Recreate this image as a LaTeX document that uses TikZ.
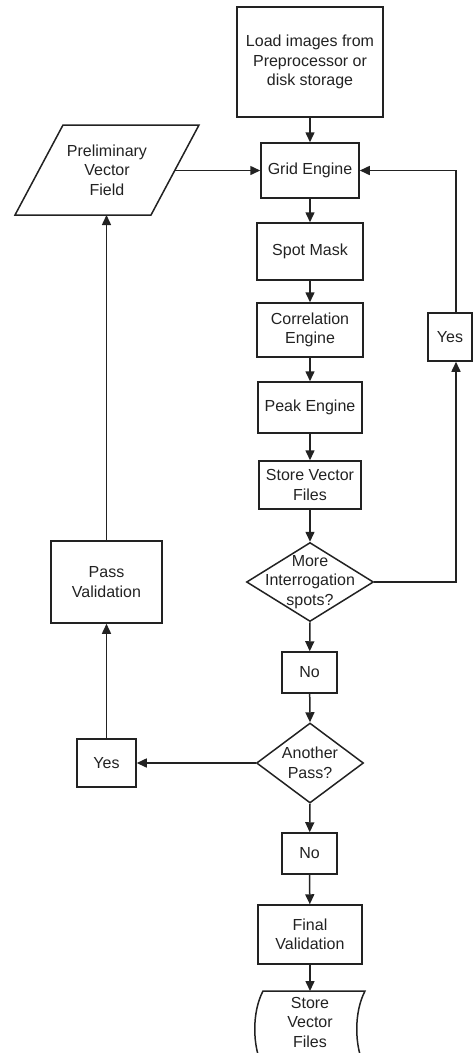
\documentclass[tikz,border=0pt]{standalone}
\usepackage{fontspec}
\setmainfont{Liberation Sans}
\usetikzlibrary{shapes.geometric,arrows.meta}
\definecolor{ink}{HTML}{222222}
\begin{document}
\begin{tikzpicture}[x=1pt,y=-1pt,
  every node/.style={font=\fontsize{16}{19.5}\selectfont, text=ink},
  box/.style={draw=ink, line width=1.5pt, rectangle, align=center, inner sep=0pt},
  dia/.style={draw=ink, line width=1.5pt, diamond, inner sep=0pt},
  txt/.style={align=center, inner sep=0pt},
  conn/.style={draw=ink, line width=1.5pt},
  arr/.style={conn, -{Triangle[length=10pt,width=9pt]}}]
\useasboundingbox (0,0) rectangle (474,1053);
\begin{scope}
\clip (0,0) rectangle (474,1053);
% nodes
\node[box, minimum width=146, minimum height=110] (load) at (310,62) {Load images from\\Preprocessor or\\disk storage};
\node[box, minimum width=98, minimum height=55] (grid) at (310,170.5) {Grid Engine};
\node[box, minimum width=106, minimum height=57] (spot) at (310,251.5) {Spot Mask};
\node[box, minimum width=106, minimum height=54] (corr) at (310,330) {Correlation\\Engine};
\node[box, minimum width=104, minimum height=51] (peak) at (310,407.5) {Peak Engine};
\node[box, minimum width=102, minimum height=48] (store) at (310,485) {Store Vector\\Files};
\node[dia, minimum width=127, minimum height=79,
  label={[txt]center:More\\Interrogation\\spots?}] (d1) at (310,582) {};
\node[box, minimum width=44, minimum height=48] (yes1) at (450,337) {Yes};
\node[box, minimum width=55, minimum height=41] (no1) at (309.5,672.5) {No};
\node[dia, minimum width=107, minimum height=80,
  label={[txt]center:Another\\Pass?}] (d2) at (310,763) {};
\node[box, minimum width=59, minimum height=48] (yes2) at (106.5,763) {Yes};
\node[box, minimum width=111, minimum height=82] (pass) at (106.5,582) {Pass\\Validation};
\node[box, minimum width=55, minimum height=41] (no2) at (309.5,853.5) {No};
\node[box, minimum width=104, minimum height=59] (final) at (310,934.5) {Final\\Validation};
% parallelogram
\node[txt] (pvf) at (107,170) {Preliminary\\Vector\\Field};
\draw[conn, line join=miter] (63,125) -- (199,125) -- (151,215) -- (15,215) -- cycle;
\coordinate (pvfE) at (175,170.5);
\coordinate (pvfS) at (106.5,215);
% stored data
\node[txt] (sd) at (310,1022) {Store\\Vector\\Files};
\draw[conn] (263,991) -- (365,991)
  .. controls (354,1012) and (354,1046) .. (365,1068)
  -- (263,1068)
  .. controls (252,1046) and (252,1012) .. (263,991) -- cycle;
\coordinate (sdN) at (310,991);
\coordinate (rx) at (456,0);
% connectors
\draw[arr] (load) -- (grid);
\draw[arr] (pvfE) -- (grid.west);
\draw[arr] (grid) -- (spot);
\draw[arr] (spot) -- (corr);
\draw[arr] (corr) -- (peak);
\draw[arr] (peak) -- (store);
\draw[arr] (store) -- (d1.north);
\draw[arr] (d1.east) -| (rx |- yes1.south);
\draw[arr] (rx |- yes1.north) |- (grid.east);
\draw[arr] (d1.south) -- (no1);
\draw[arr] (no1) -- (d2.north);
\draw[arr] (d2.west) -- (yes2.east);
\draw[arr] (yes2) -- (pass);
\draw[arr] (pass) -- (pvfS);
\draw[arr] (d2.south) -- (no2);
\draw[arr] (no2) -- (final);
\draw[arr] (final) -- (sdN);
\end{scope}
\end{tikzpicture}
\end{document}
